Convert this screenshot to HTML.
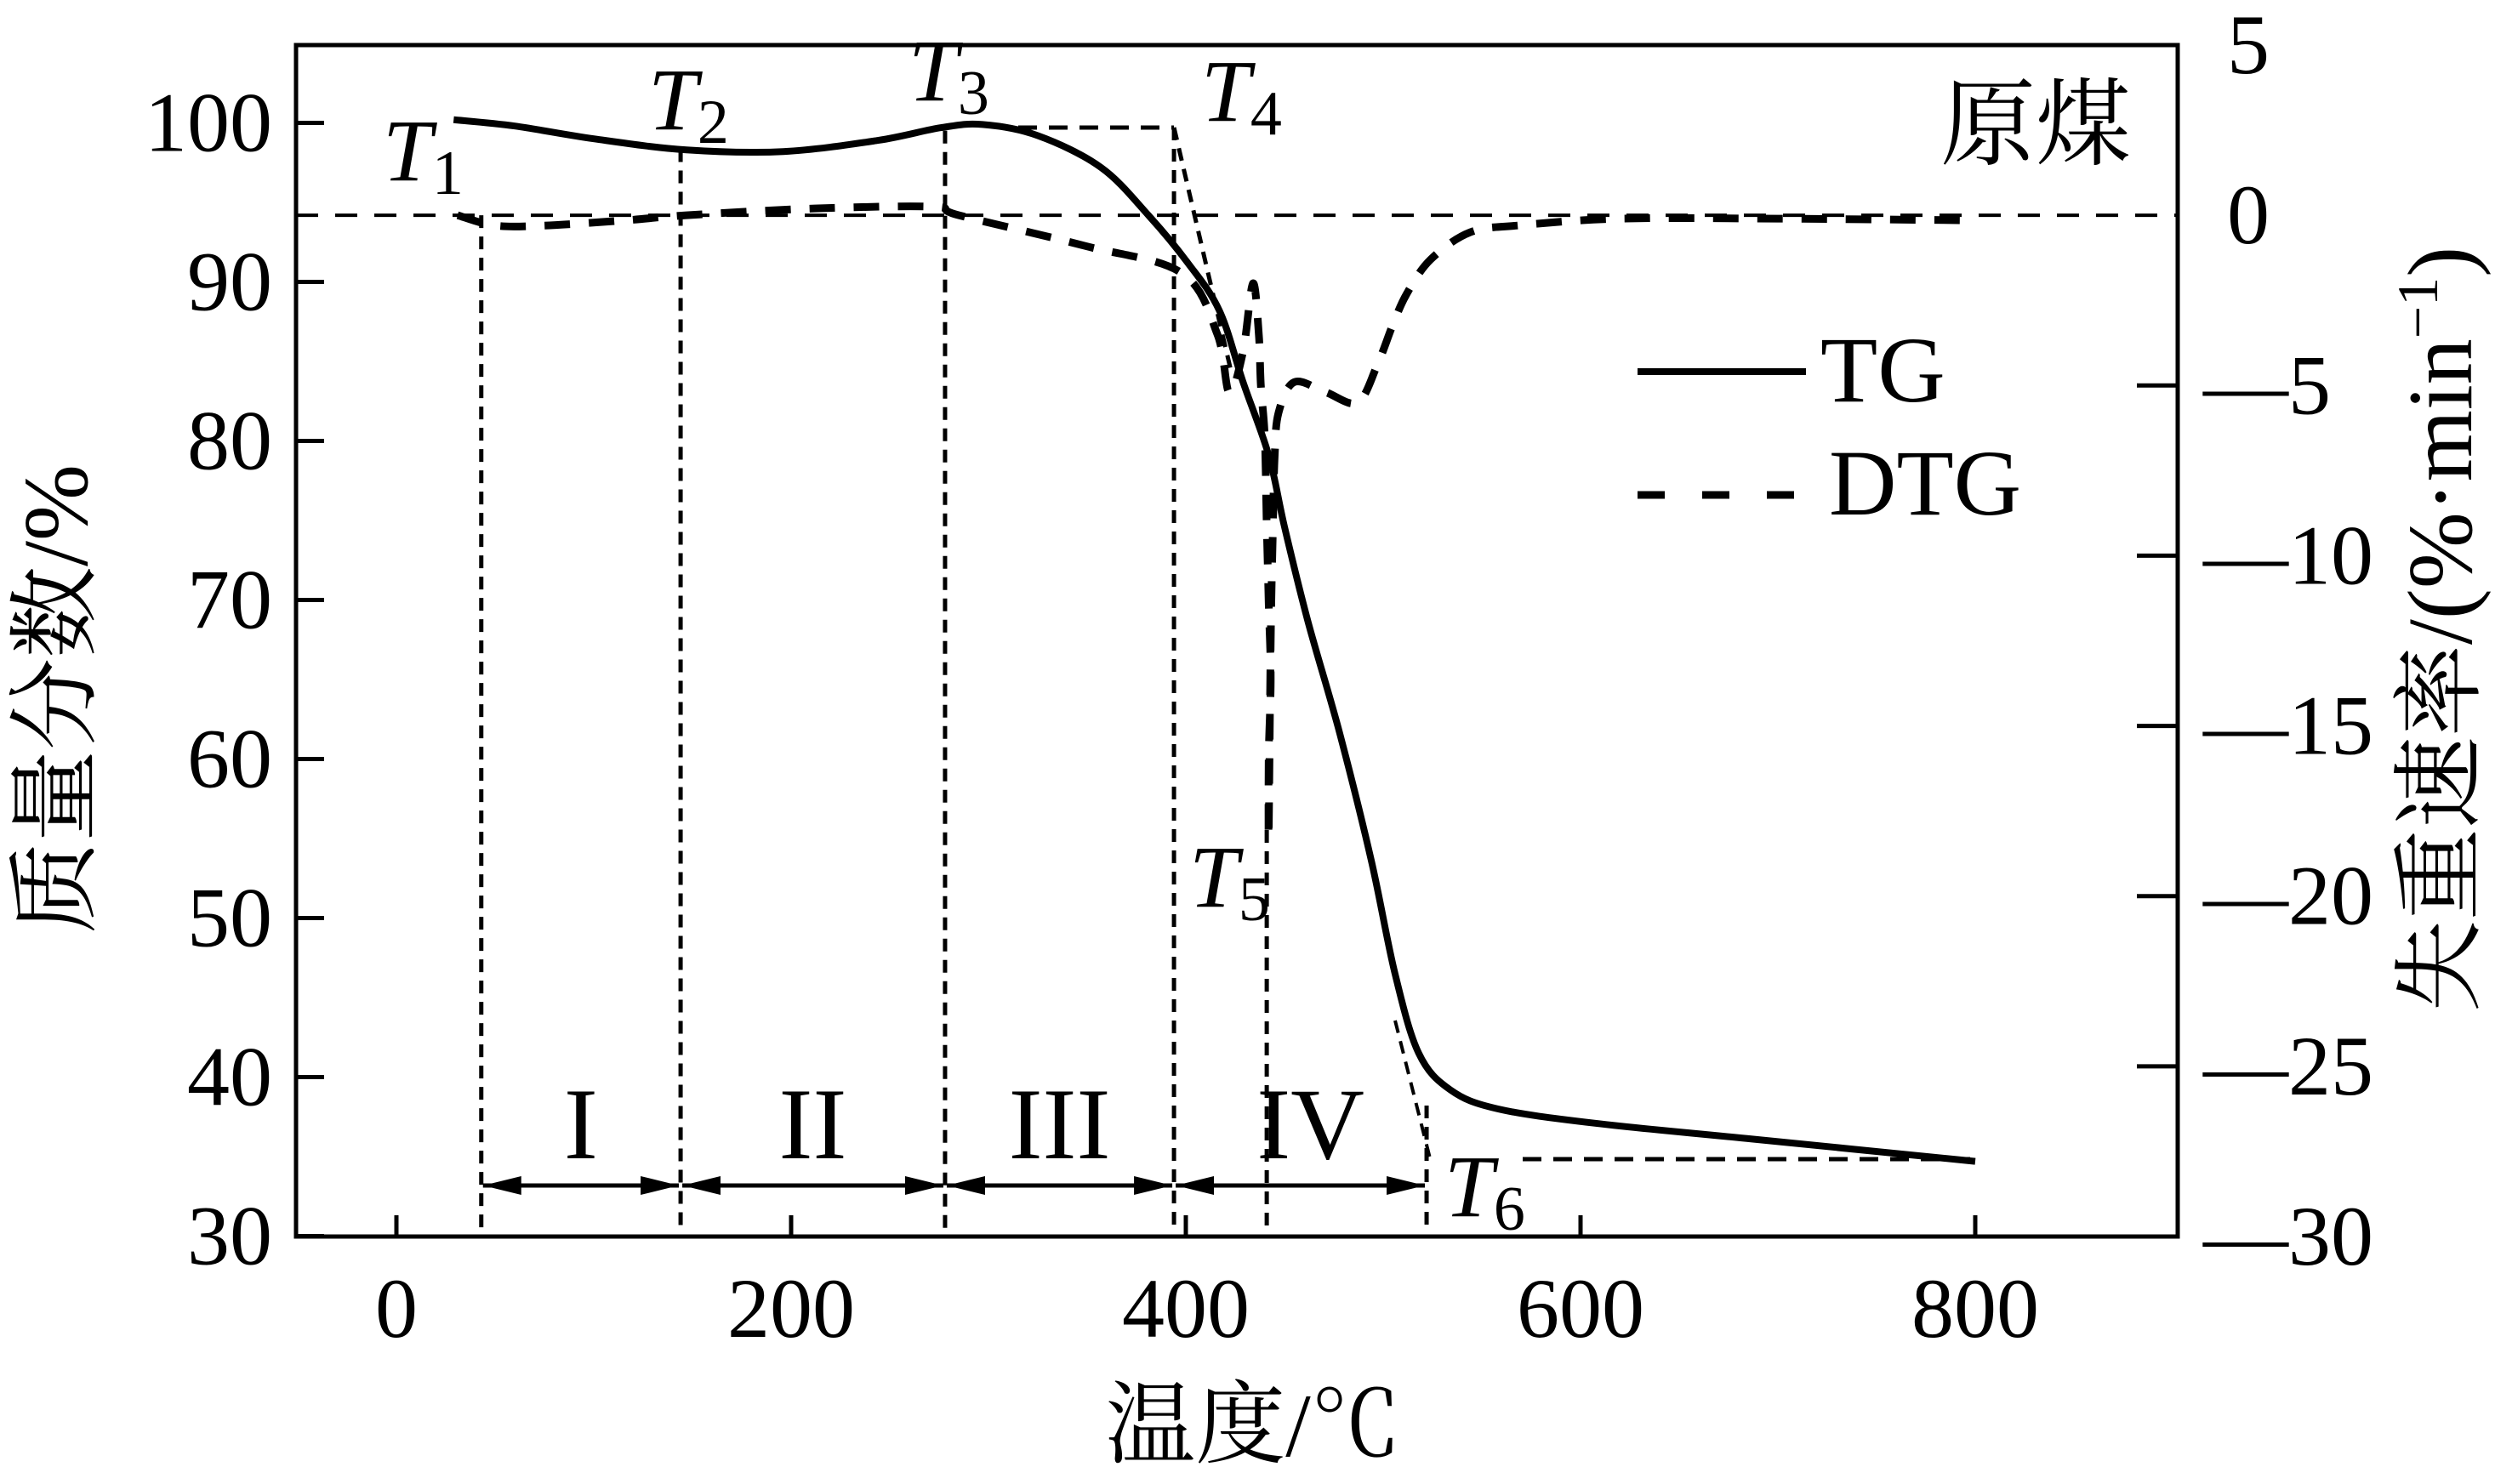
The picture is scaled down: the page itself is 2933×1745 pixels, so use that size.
<!DOCTYPE html>
<html><head><meta charset="utf-8">
<style>
html,body{margin:0;padding:0;background:#fff;}
svg{display:block;}
text{font-family:"Liberation Serif","Noto Serif CJK SC",serif;fill:#000;}
</style></head>
<body>
<svg id="chart" width="2933" height="1745" viewBox="0 0 2933 1745" xmlns="http://www.w3.org/2000/svg">
<defs>
<marker id="ah" viewBox="0 0 45 22" refX="45" refY="11" markerWidth="45" markerHeight="22" markerUnits="userSpaceOnUse" orient="auto-start-reverse">
<path d="M0,0 L45,11 L0,22 Z" fill="#000"/>
</marker>
</defs>
<g id="plot"></g>
</svg>
<script>
// ---- data ----
const xTicks = [0, 200, 400, 600, 800];
const yLeftTicks = [30, 40, 50, 60, 70, 80, 90, 100];
const yRightTicks = [5, 0, -5, -10, -15, -20, -25, -30];
const tgTemp = [29, 60, 100, 147, 196, 244, 276, 297, 325, 357, 381, 401, 417, 429, 442, 450, 462, 478, 494, 506, 518, 534, 558, 607, 687, 800];
const tgMass = [100.2, 99.8, 99.0, 98.3, 98.2, 98.9, 99.7, 99.9, 99.2, 97.2, 94.2, 91.2, 88.2, 83.7, 79.1, 74.6, 68.6, 61.6, 53.6, 46.5, 41.5, 39.2, 38.0, 37.1, 36.1, 34.7];
const dtgTemp = [31, 50, 75, 116, 147, 212, 272, 285, 349, 398, 416, 422, 429, 434, 437, 438, 440, 441, 442, 443, 442, 442, 443, 444, 445, 447, 455, 471, 487, 497, 505, 512, 524, 544, 568, 620, 700, 800];
const dtgRate = [0, -0.3, -0.3, -0.15, 0, 0.2, 0.25, 0, -0.9, -1.7, -3.5, -5.2, -4.0, -2.0, -3.5, -5.0, -6.5, -9.1, -11.4, -13.6, -15.9, -18.2, -12.5, -9.5, -7.1, -5.8, -4.9, -5.2, -5.5, -4.4, -3.2, -2.3, -1.3, -0.5, -0.3, -0.1, -0.1, -0.15];
const stageTemps = [43, 144, 278, 394, 441, 522];
const stageLabels = ["I", "II", "III", "IV"];

// ---- axes ----
const L = 348, R = 2560, TOP = 53, BOT = 1454;
function X(t){ return 466 + t * 2.32; }
function YL(v){ return 144.5 + (100 - v) * 18.7; }
function YR(v){ return TOP + (5 - v) * (BOT - TOP) / 35; }

const NS = "http://www.w3.org/2000/svg";
const g = document.getElementById("plot");
function mk(tag, attrs, parent){
  const e = document.createElementNS(NS, tag);
  for (const k in attrs) e.setAttribute(k, attrs[k]);
  (parent || g).appendChild(e);
  return e;
}
function txt(s, x, y, size, anchor, parent){
  const e = mk("text", {x:x, y:y, "font-size":size, "text-anchor":anchor||"middle"}, parent);
  e.textContent = s;
  return e;
}

let zl = mk("line", {x1:L, x2:R, y1:YR(0), y2:YR(0), stroke:"#000", "stroke-width":4, "stroke-dasharray":"26 20"});



const tgAt = t => { for (let i=1;i<tgTemp.length;i++){ if (t<=tgTemp[i]){ const f=(t-tgTemp[i-1])/(tgTemp[i]-tgTemp[i-1]); return tgMass[i-1]+f*(tgMass[i]-tgMass[i-1]); } } return tgMass[tgMass.length-1]; };
const vStarts = [YR(0), YL(tgAt(stageTemps[1])), YL(tgAt(stageTemps[2]))+4, 150, 976, 1300];
stageTemps.forEach((t, i) => {
  const v = mk("line", {x1:X(t), x2:X(t), y1:vStarts[i], y2:BOT-4, stroke:"#000", "stroke-width":5, "stroke-dasharray":"15 10"});
  
  
});
let h4 = mk("line", {x1:1197, x2:X(stageTemps[3]), y1:150, y2:150, stroke:"#000", "stroke-width":5, "stroke-dasharray":"22 14"});


let s4 = mk("line", {x1:X(stageTemps[3]), y1:150, x2:1448, y2:440, stroke:"#000", "stroke-width":5, "stroke-dasharray":"15 10"});


let s6 = mk("line", {x1:1640, y1:1200, x2:1681, y2:1362, stroke:"#000", "stroke-width":4, "stroke-dasharray":"15 10"});


let h6 = mk("line", {x1:1790, x2:X(800), y1:1363, y2:1363, stroke:"#000", "stroke-width":5, "stroke-dasharray":"22 14"});



const arrowY = 1394;
const arrowPairs = [[0,1],[1,2],[2,3],[3,5]];
arrowPairs.forEach((p, i) => {
  const a = mk("line", {x1:X(stageTemps[p[0]])+2, x2:X(stageTemps[p[1]])-2, y1:arrowY, y2:arrowY, stroke:"#000", "stroke-width":5, "marker-start":"url(#ah)", "marker-end":"url(#ah)"});
  
  
  const lx = (X(stageTemps[p[0]]) + X(stageTemps[p[1]])) / 2;
  const lt = txt(stageLabels[i], lx + (i===3?12:0), 1362, 120);
  
  
});

function smooth(pts){
  let d = "M" + pts[0][0] + "," + pts[0][1];
  for (let i=0;i<pts.length-1;i++){
    const p0 = pts[Math.max(0,i-1)], p1 = pts[i], p2 = pts[i+1], p3 = pts[Math.min(pts.length-1,i+2)];
    const c1x = p1[0] + (p2[0]-p0[0])/6, c1y = p1[1] + (p2[1]-p0[1])/6;
    const c2x = p2[0] - (p3[0]-p1[0])/6, c2y = p2[1] - (p3[1]-p1[1])/6;
    d += " C" + c1x.toFixed(1) + "," + c1y.toFixed(1) + " " + c2x.toFixed(1) + "," + c2y.toFixed(1) + " " + p2[0].toFixed(1) + "," + p2[1].toFixed(1);
  }
  return d;
}
const tgPts = tgTemp.map((t,i) => [X(t), YL(tgMass[i])]);
let tg = mk("path", {d:smooth(tgPts), fill:"none", stroke:"#000", "stroke-width":8, "stroke-linejoin":"round"});



const dtgPts = dtgTemp.map((t,i) => [X(t), YR(dtgRate[i])]);
let dtg = mk("path", {d:smooth(dtgPts), fill:"none", stroke:"#000", "stroke-width":9, "stroke-dasharray":"30 22"});



let fr = mk("rect", {x:L, y:TOP, width:R-L, height:BOT-TOP, fill:"none", stroke:"#000", "stroke-width":5});



xTicks.forEach(t => {
  const tk = mk("line", {x1:X(t), x2:X(t), y1:BOT, y2:BOT-25, stroke:"#000", "stroke-width":5});
  
  
  const lb = txt(String(t), X(t), 1572, 100);
  
  
});
yLeftTicks.forEach(v => {
  const tk = mk("line", {x1:L, x2:L+33, y1:YL(v), y2:YL(v), stroke:"#000", "stroke-width":5});
  
  
  const lb = txt(String(v), 320, YL(v)+33, 100, "end");
  
  
});
yRightTicks.forEach(v => {
  if (v < 0 && v > -30) {
    const tk = mk("line", {x1:R-48, x2:R, y1:YR(v), y2:YR(v), stroke:"#000", "stroke-width":5});
    
    
  }
  const lb = txt(v < 0 ? "\u2014" + Math.abs(v) : String(v), v < 0 ? 2590 : 2618, YR(v)+33, 100, "start");
  
  
});

const tLabelPos = [[450,212],[762,152],[1068,118],[1412,142],[1398,1066],[1698,1430]];
tLabelPos.forEach((p, i) => {
  const e = mk("text", {x:p[0], y:p[1], "font-size":104, "font-style":"italic"});
  e.innerHTML = 'T<tspan font-style="normal" font-size="74" dy="16">' + (i+1) + '</tspan>';
  
  
});

let lg = mk("g", {});


let l1 = mk("line", {x1:1925, x2:2123, y1:437, y2:437, stroke:"#000", "stroke-width":8}, lg);


let lt1 = txt("TG", 2140, 472, 110, "start", lg);


let l2 = mk("line", {x1:1925, x2:2110, y1:582, y2:582, stroke:"#000", "stroke-width":9, "stroke-dasharray":"32 44"}, lg);


let lt2 = txt("DTG", 2150, 605, 110, "start", lg);



let sample = txt("原煤", 2393, 185, 112, "middle");



let xt = txt("温度/℃", 1473, 1712, 106);


let ylt = txt("质量分数/%", 0, 0, 108);
ylt.setAttribute("transform", "translate(102,822) rotate(-90)");


let yrt = mk("text", {"font-size":108, "text-anchor":"middle", transform:"translate(2905,740) rotate(-90)"});
yrt.innerHTML = '失重速率/(%·min<tspan font-size="68" dy="-40">−1</tspan><tspan dy="40">)</tspan>';


</script>
</body></html>
